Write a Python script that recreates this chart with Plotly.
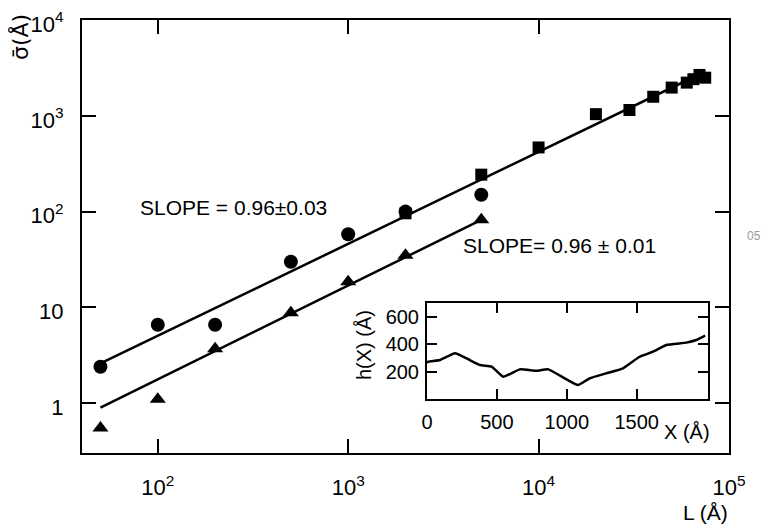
import plotly.graph_objects as go

# ---- main panel data ----
circle_L = [50, 100, 200, 500, 1000, 2000, 5000]
circle_s = [2.4, 6.6, 6.6, 30, 58, 100, 150]

triangle_L = [50, 100, 200, 500, 1000, 2000, 5000]
triangle_s = [0.55, 1.1, 3.7, 8.8, 18.5, 35, 82]

square_L = [2000, 5000, 10000, 20000, 30000, 40000, 50000, 60000, 65000, 70000, 75000]
square_s = [96, 243, 467, 1040, 1150, 1580, 1970, 2220, 2410, 2670, 2500]

fit_upper_L = [50, 75000]
fit_upper_s = [2.6, 2900]
fit_lower_L = [50, 5000]
fit_lower_s = [0.9, 82]

main_xtick_vals = [100, 1000, 10000, 100000]
main_xtick_text = ["10<sup>2</sup>", "10<sup>3</sup>", "10<sup>4</sup>", "10<sup>5</sup>"]
main_ytick_vals = [1, 10, 100, 1000, 10000]
main_ytick_text = ["1", "10", "10<sup>2</sup>", "10<sup>3</sup>", "10<sup>4</sup>"]

# ---- inset profile data ----
inset_X = [0, 10, 93, 200, 283, 379, 462, 545, 664, 783, 867, 998, 1081, 1164,
           1283, 1402, 1521, 1617, 1712, 1855, 1926, 1990]
inset_h = [265, 272, 284, 333, 296, 248, 236, 163, 216, 206, 216, 143, 102, 151,
           187, 224, 308, 345, 394, 411, 430, 462]
inset_xtick_vals = [0, 500, 1000, 1500]
inset_ytick_vals = [200, 400, 600]

FONT = "Liberation Sans, Arial, sans-serif"

# page has an 8px body margin: figure origin sits at page (8, 8)
OFF = 8
W, H = 771 - OFF, 528 - OFF
# plot area in page pixels: x 82..729, y 20..453
L_PAGE, R_PAGE, T_PAGE, B_PAGE = 82, 729, 20, 453
ML = L_PAGE - OFF
MT = T_PAGE - OFF
MR = W - (R_PAGE - OFF)
MB = H - (B_PAGE - OFF)
PW, PH = R_PAGE - L_PAGE, B_PAGE - T_PAGE


def px(x):
    return (x - L_PAGE) / PW


def py(y):
    return (B_PAGE - y) / PH


fig = go.Figure()

line_style = dict(color="black", width=2.5)
fig.add_trace(go.Scatter(x=fit_upper_L, y=fit_upper_s, mode="lines", line=line_style,
                         showlegend=False, hoverinfo="skip"))
fig.add_trace(go.Scatter(x=fit_lower_L, y=fit_lower_s, mode="lines", line=line_style,
                         showlegend=False, hoverinfo="skip"))
fig.add_trace(go.Scatter(x=circle_L, y=circle_s, mode="markers",
                         marker=dict(symbol="circle", size=14, color="black"),
                         showlegend=False))
fig.add_trace(go.Scatter(x=triangle_L, y=triangle_s, mode="markers",
                         marker=dict(symbol="triangle-up", size=14, color="black"),
                         showlegend=False))
fig.add_trace(go.Scatter(x=square_L, y=square_s, mode="markers",
                         marker=dict(symbol="square", size=12, color="black"),
                         showlegend=False))

# inset
fig.add_trace(go.Scatter(x=inset_X, y=inset_h, mode="lines",
                         line=dict(color="black", width=2.5, shape="spline", smoothing=0.4),
                         xaxis="x2", yaxis="y2", showlegend=False))

axis_common = dict(showgrid=False, zeroline=False, showline=True, linecolor="black",
                   linewidth=2, mirror="ticks", ticks="inside", tickcolor="black",
                   tickwidth=2, color="black", automargin=False,
                   ticklabeloverflow="allow")

fig.update_layout(
    width=W, height=H,
    margin=dict(l=ML, r=MR, t=MT, b=MB, autoexpand=False),
    paper_bgcolor="white", plot_bgcolor="white",
    font=dict(family=FONT, color="black", size=21),
    xaxis=dict(type="log", range=[1.602, 5.0], domain=[0, 1],
               tickvals=main_xtick_vals, ticktext=main_xtick_text,
               ticklen=14, ticklabelstandoff=14, tickfont=dict(size=22),
               **axis_common),
    yaxis=dict(type="log", range=[-0.52, 4.0], domain=[0, 1],
               tickvals=main_ytick_vals, ticktext=main_ytick_text,
               ticklen=14, ticklabelstandoff=12, ticklabelshift=4,
               tickfont=dict(size=22), **axis_common),
    xaxis2=dict(range=[0, 2010], domain=[px(427), px(708)], anchor="y2",
                tickvals=inset_xtick_vals, ticklen=10, ticklabelstandoff=4,
                tickfont=dict(size=20), **axis_common),
    yaxis2=dict(range=[0, 700], domain=[py(399), py(303)], anchor="x2",
                tickvals=inset_ytick_vals, ticklen=10, ticklabelstandoff=2,
                tickfont=dict(size=20), **axis_common),
)

annotations = [
    dict(text="σ\u0304(Å)", x=px(20), y=py(37), textangle=-90,
         font=dict(size=22, family="DejaVu Sans")),
    dict(text="L (Å)", x=px(705), y=py(512), font=dict(size=21)),
    dict(text="SLOPE = 0.96±0.03", x=px(138), y=py(207), xanchor="left",
         font=dict(size=21)),
    dict(text="SLOPE= 0.96 ± 0.01", x=px(461), y=py(245), xanchor="left",
         font=dict(size=21)),
    dict(text="h(X) (Å)", x=px(364), y=py(345), textangle=-90, font=dict(size=20)),
    dict(text="X (Å)", x=px(687), y=py(432), font=dict(size=20)),
    dict(text="05", x=px(754), y=py(236), font=dict(size=12, color="#999999")),
]
for a in annotations:
    fig.add_annotation(xref="paper", yref="paper", showarrow=False,
                       xanchor=a.get("xanchor", "center"), yanchor="middle",
                       **{k: v for k, v in a.items() if k != "xanchor"})

fig.write_html("out.html")
